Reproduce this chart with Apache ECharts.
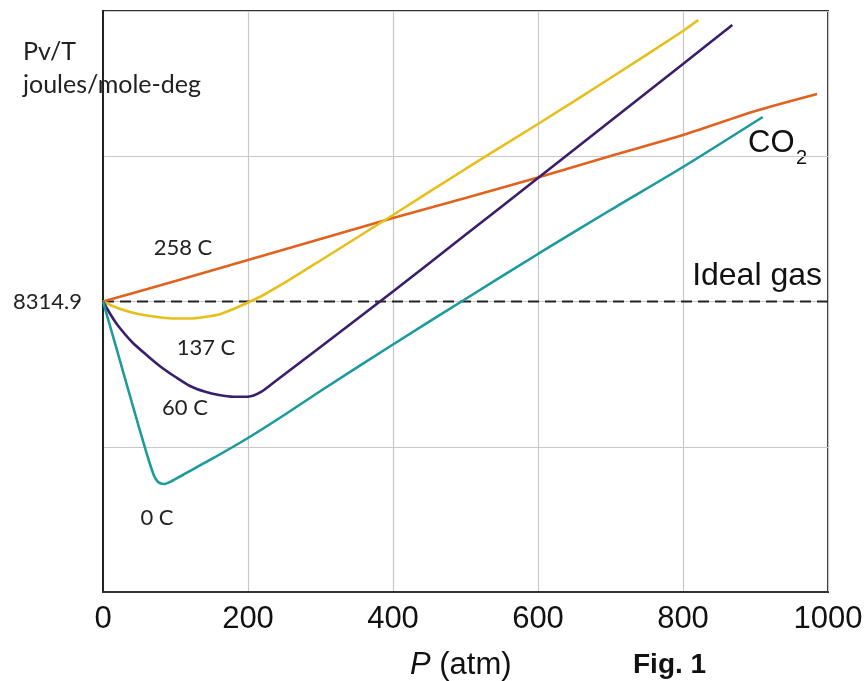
<!DOCTYPE html>
<html>
<head>
<meta charset="utf-8">
<script src="https://cdn.jsdelivr.net/npm/echarts@6/dist/echarts.min.js"></script>
<style>
  html, body { margin: 0; padding: 0; background: #fff; }
  #chart { width: 867px; height: 681px; }
</style>
</head>
<body>
<div id="chart"></div>
<script>
// ---- Data (P in atm, Pv/T in joules/mole-deg) ----
const xTicks = [0, 200, 400, 600, 800, 1000];
const idealValue = 8314.9;
const idealP = [0, 1000];

const p258 = [0, 100, 200, 300, 400, 500, 600, 700, 800, 900, 985];
const v258 = [8314.9, 8902, 9503, 10104, 10705, 11277, 11864, 12480, 13081, 13768, 14254];

const p137 = [0, 20, 40, 60, 80, 100, 120, 140, 160, 180, 200, 220, 250, 300, 400, 500, 600, 700, 800, 821];
const v137 = [8314.9, 8129, 8000, 7914, 7857, 7828, 7828, 7871, 7943, 8100, 8286, 8487, 8845, 9489, 10791, 12108, 13396, 14712, 16058, 16372];

const p60 = [0, 10, 20, 40, 60, 80, 100, 120, 140, 160, 180, 200, 218, 240, 300, 400, 500, 600, 700, 800, 868];
const v60 = [8314.9, 7957, 7642, 7156, 6784, 6440, 6154, 5896, 5739, 5639, 5590, 5590, 5725, 6068, 7013, 8601, 10224, 11850, 13481, 15113, 16229];

const p0 = [0, 20, 40, 60, 70, 76, 84, 95, 110, 150, 200, 250, 300, 400, 500, 600, 700, 800, 910];
const v0 = [8314.9, 6870, 5410, 3979, 3349, 3149, 3091, 3177, 3349, 3807, 4408, 5066, 5753, 7084, 8387, 9675, 10934, 12165, 13596];

const curveLabels = ['258 C', '137 C', '60 C', '0 C'];

// ---- Build ----
const zip = (xs, ys) => xs.map((x, i) => [x, ys[i]]);
const chart = echarts.init(document.getElementById('chart'), null, { renderer: 'canvas' });

const yStep = idealValue / 2;
const lineSeries = (name, xs, ys, color) => ({
  name, type: 'line', data: zip(xs, ys), symbol: 'none', smooth: 0.25,
  lineStyle: { color, width: 2.6 }, z: 3
});
const label = (txt, x, y) => ({ type: 'text', x, y, style: { text: txt, font: '22px Lato, sans-serif', fill: '#222', textAlign: 'center', textVerticalAlign: 'middle' } });
const arial = 'Liberation Sans, Arial, sans-serif';

const option = {
  animation: false,
  backgroundColor: '#ffffff',
  grid: { left: 103, right: 39, top: 11, bottom: 89, show: true, borderColor: '#333', borderWidth: 2, containLabel: false },
  xAxis: {
    type: 'value', min: xTicks[0], max: xTicks[xTicks.length - 1], interval: 200,
    axisLine: { show: true, lineStyle: { color: '#333', width: 2 } },
    axisTick: { show: false },
    axisLabel: { color: '#111', fontFamily: arial, fontSize: 31, margin: 12, formatter: v => String(v) },
    splitLine: { show: true, lineStyle: { color: '#c8c8c8', width: 1.2 } }
  },
  yAxis: {
    type: 'value', min: 0, max: yStep * 4, interval: yStep,
    axisLine: { show: true, lineStyle: { color: '#222', width: 2 } },
    axisTick: { show: false },
    axisLabel: {
      color: '#222', fontFamily: 'Lato, sans-serif', fontSize: 22, margin: 21,
      formatter: v => (Math.abs(v - idealValue) < 1 ? String(idealValue) : '')
    },
    splitLine: { show: true, lineStyle: { color: '#c8c8c8', width: 1.2 } }
  },
  series: [
    {
      name: 'Ideal gas', type: 'line', data: idealP.map(p => [p, idealValue]), symbol: 'none',
      lineStyle: { color: '#222', width: 1.8, type: [11, 6] }, z: 2
    },
    lineSeries(curveLabels[0], p258, v258, '#e0621e'),
    lineSeries(curveLabels[1], p137, v137, '#e6bf1a'),
    lineSeries(curveLabels[2], p60, v60, '#3a1e6b'),
    lineSeries(curveLabels[3], p0, v0, '#1c9a9c')
  ],
  graphic: [
    { type: 'text', left: 23, top: 35, style: { text: 'Pv/T\njoules/mole-deg', font: '25px Lato, sans-serif', fill: '#222', lineHeight: 33 } },
    label(curveLabels[0], 183, 248),
    label(curveLabels[1], 206, 348),
    label(curveLabels[2], 185, 408),
    label(curveLabels[3], 157, 518),
    { type: 'text', x: 822, y: 276, style: { text: 'Ideal gas', font: '32px ' + arial, fill: '#111', textAlign: 'right', textVerticalAlign: 'middle' } },
    { type: 'text', x: 748, y: 143, style: { text: 'CO', font: '31px ' + arial, fill: '#111', textVerticalAlign: 'middle' } },
    { type: 'text', x: 796, y: 158, style: { text: '2', font: '20px ' + arial, fill: '#111', textVerticalAlign: 'middle' } },
    { type: 'text', x: 410, y: 665, style: {
        text: '{i|P} (atm)', fill: '#111', textVerticalAlign: 'middle', font: '31px ' + arial,
        rich: { i: { fontSize: 31, fontStyle: 'italic', fontFamily: arial, fill: '#111' } }
      } },
    { type: 'text', x: 633, y: 665, style: { text: 'Fig. 1', font: 'bold 28px ' + arial, fill: '#111', textVerticalAlign: 'middle' } }
  ]
};
chart.setOption(option);
</script>
</body>
</html>
